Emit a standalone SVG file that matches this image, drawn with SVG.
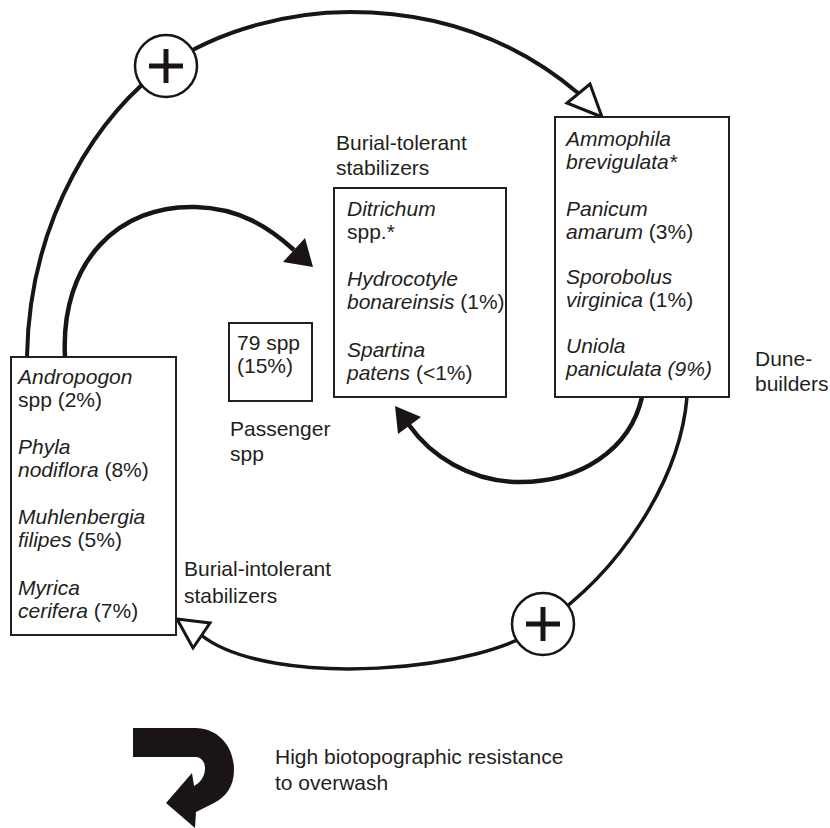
<svg xmlns="http://www.w3.org/2000/svg" width="830" height="828" viewBox="0 0 830 828">
<style>
  text { font-family: "Liberation Sans", Arial, sans-serif; font-size: 21px; fill: #231f20; }
  .it { font-style: italic; }
  .box { fill: #ffffff; stroke: #231f20; stroke-width: 2; }
  .loop { fill: none; stroke: #1a1415; stroke-width: 4; stroke-linecap: butt; }
  .loop2 { fill: none; stroke: #1a1415; stroke-width: 3.5; }
  .inner { fill: none; stroke: #1a1415; stroke-width: 4.5; }
  .hollow { fill: #ffffff; stroke: #1a1415; stroke-width: 3; stroke-linejoin: miter; }
  .solid { fill: #1a1415; stroke: none; }
  .pc { fill: #ffffff; stroke: #1a1415; stroke-width: 2.5; }
  .pl { stroke: #1a1415; stroke-width: 5; fill: none; }
</style>

<g id="connectors">
  <!-- top outer arc: burial-intolerant -> dune-builders -->
  <path class="loop" d="M27,357 C29,217 101,110 166,66 C220,29 290,12 350,12 C440,12 515,40 578,93"/>
  <polygon class="hollow" points="602,117 590,84 567,103"/>
  <!-- bottom outer arc: dune-builders -> burial-intolerant -->
  <path class="loop2" d="M687,397 C680,480 620,572 543,624 C490,672 270,690 201,635"/>
  <polygon class="hollow" points="177,619 210,623 193,648"/>
  <!-- inner arc: burial-intolerant -> burial-tolerant -->
  <path class="inner" d="M65,357 C60,260 120,205 195,207 C240,208 270,228 294,250"/>
  <polygon class="solid" points="313,267 283,262 305,238"/>
  <!-- inner arc: dune-builders -> burial-tolerant -->
  <path class="inner" d="M642,397 C630,450 580,482 520,482 C470,482 430,455 409,425"/>
  <polygon class="solid" points="395,406 398,434 421,417"/>
</g>

<g id="plus-top">
  <circle class="pc" cx="166" cy="66" r="31"/>
  <path class="pl" d="M149,66 H183 M166,49 V83"/>
</g>
<g id="plus-bottom">
  <circle class="pc" cx="543" cy="624" r="31"/>
  <path class="pl" d="M526,624 H560 M543,607 V641"/>
</g>

<g id="burial-intolerant">
  <rect class="box" x="11" y="357" width="165" height="278"/>
  <text x="18" y="384" class="it">Andropogon</text>
  <text x="18" y="407">spp (2%)</text>
  <text x="18" y="454" class="it">Phyla</text>
  <text x="18" y="477"><tspan class="it">nodiflora</tspan> (8%)</text>
  <text x="18" y="524" class="it">Muhlenbergia</text>
  <text x="18" y="547"><tspan class="it">filipes</tspan> (5%)</text>
  <text x="18" y="595" class="it">Myrica</text>
  <text x="18" y="618"><tspan class="it">cerifera</tspan> (7%)</text>
  <text x="184" y="576">Burial-intolerant</text>
  <text x="184" y="603">stabilizers</text>
</g>

<g id="passenger">
  <rect class="box" x="229" y="323" width="83" height="78"/>
  <text x="237" y="350">79 spp</text>
  <text x="237" y="373">(15%)</text>
  <text x="230" y="436">Passenger</text>
  <text x="230" y="461">spp</text>
</g>

<g id="burial-tolerant">
  <text x="336" y="150">Burial-tolerant</text>
  <text x="336" y="175">stabilizers</text>
  <rect class="box" x="334" y="188" width="172" height="209"/>
  <text x="347" y="216" class="it">Ditrichum</text>
  <text x="347" y="239">spp.*</text>
  <text x="347" y="286" class="it">Hydrocotyle</text>
  <text x="347" y="309"><tspan class="it">bonareinsis</tspan> (1%)</text>
  <text x="347" y="357" class="it">Spartina</text>
  <text x="347" y="380"><tspan class="it">patens</tspan> (&lt;1%)</text>
</g>

<g id="dune-builders">
  <rect class="box" x="555" y="117" width="174" height="280"/>
  <text x="566" y="146" class="it">Ammophila</text>
  <text x="566" y="169" class="it">brevigulata*</text>
  <text x="566" y="216" class="it">Panicum</text>
  <text x="566" y="239"><tspan class="it">amarum</tspan> (3%)</text>
  <text x="566" y="284" class="it">Sporobolus</text>
  <text x="566" y="307"><tspan class="it">virginica</tspan> (1%)</text>
  <text x="566" y="353" class="it">Uniola</text>
  <text x="566" y="376" class="it">paniculata (9%)</text>
  <text x="755" y="366">Dune-</text>
  <text x="755" y="391">builders</text>
</g>

<g id="legend">
  <path class="solid" d="M133,728 H195 C218,728 234,746 234,770 C234,786 226,797 214,803 L196,812 L195,828 L166,803 L192,773 L194,786 C201,782 205,776 205,768 C205,762 201,757 196,757 H133 Z"/>
  <text x="275" y="764">High biotopographic resistance</text>
  <text x="275" y="790">to overwash</text>
</g>
</svg>
